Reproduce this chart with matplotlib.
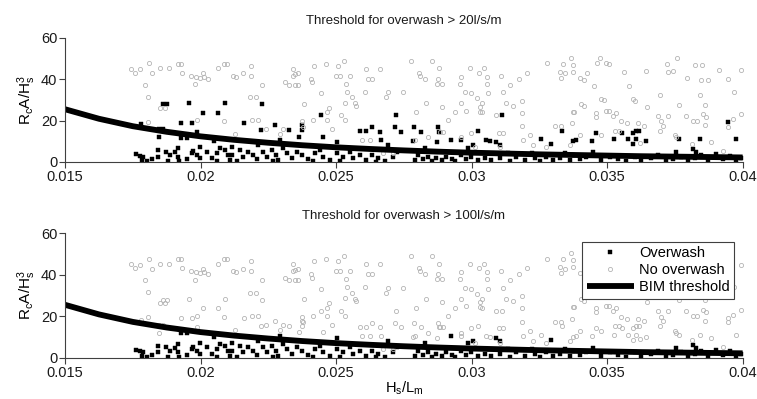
import matplotlib
matplotlib.use("Agg")
import matplotlib.pyplot as plt

plt.rcParams.update({
    "font.family": "Liberation Sans", "font.size": 10.5,
    "mathtext.fontset": "custom", "mathtext.rm": "Liberation Sans",
    "mathtext.it": "Liberation Sans:italic",
    "axes.edgecolor": "#404040", "axes.linewidth": 0.8,
})

# BIM threshold curve
thr_x = [0.015, 0.01625, 0.0175, 0.01875, 0.02, 0.02125, 0.0225, 0.02375, 0.025, 0.02625,
         0.0275, 0.02875, 0.03, 0.03125, 0.0325, 0.03375, 0.035, 0.03625, 0.0375, 0.03875, 0.04]
thr_y = [25.5, 20.9, 17.3, 14.6, 12.4, 10.7, 9.3, 8.1, 7.1, 6.3,
         5.6, 5.0, 4.5, 4.1, 3.7, 3.4, 3.1, 2.8, 2.6, 2.4, 2.2]

# tests with no overwash at either threshold (grey circles in both panels)
dry_x = [0.01742, 0.01758, 0.01777, 0.01811, 0.01820, 0.01850, 0.01885, 0.01918, 0.01927, 0.01930,
         0.01963, 0.01979, 0.01983, 0.01998, 0.02010, 0.02013, 0.02029, 0.02063, 0.02087, 0.02096,
         0.01796, 0.01807, 0.01850, 0.01869, 0.01807, 0.01985, 0.02087,
         0.02121, 0.02131, 0.02158, 0.02186, 0.02186, 0.02228, 0.02182, 0.02204, 0.02311,
         0.02327, 0.02342, 0.02342, 0.02348, 0.02358, 0.02348, 0.02360, 0.02407, 0.02410, 0.02419,
         0.02461, 0.02508, 0.02530, 0.02499, 0.02514, 0.02551, 0.02536, 0.02446, 0.02539, 0.02557,
         0.02533, 0.02569, 0.02572, 0.02610, 0.02661, 0.02618, 0.02631, 0.02606, 0.02684, 0.02690,
         0.02745, 0.02381, 0.02475, 0.02468, 0.02518, 0.02533, 0.02416, 0.02465, 0.02373, 0.02188,
         0.02213, 0.02241, 0.02303, 0.02293, 0.02127, 0.02379, 0.02483, 0.02624, 0.02674, 0.02711,
         0.02594,
         0.02778, 0.02854, 0.02805, 0.02809, 0.02827, 0.02880, 0.02876, 0.02873, 0.02892, 0.02993,
         0.03045, 0.03028, 0.02962, 0.02956, 0.03057, 0.03107, 0.03058, 0.03141, 0.03174, 0.03206,
         0.03278, 0.03337, 0.03368, 0.03325, 0.03344, 0.03331, 0.03374, 0.02975, 0.02996,
         0.03021, 0.03061, 0.03114, 0.02833, 0.02889, 0.02962, 0.03039, 0.03030, 0.03126, 0.03151,
         0.03186, 0.02793, 0.02938, 0.02981, 0.03030, 0.03040, 0.03089, 0.03187, 0.02913, 0.03187,
         0.03307, 0.03329, 0.03374, 0.02883, 0.02895, 0.02996, 0.03101, 0.03114, 0.03214, 0.02962,
         0.02840, 0.02790, 0.03012, 0.03104, 0.03190, 0.03227, 0.03276, 0.03362,
         0.03374, 0.03401, 0.03414, 0.03426, 0.03473, 0.03464, 0.03497, 0.03507, 0.03450,
         0.03561, 0.03581, 0.03645, 0.03721, 0.03724, 0.03743, 0.03758, 0.03796, 0.03823, 0.03851,
         0.03847, 0.03872, 0.03912, 0.03946, 0.03995, 0.03968, 0.03694, 0.03841, 0.03479, 0.03489,
         0.03595, 0.03602, 0.03405, 0.03414, 0.03647, 0.03767, 0.03860, 0.03377, 0.03460, 0.03460,
         0.03497, 0.03507, 0.03534, 0.03688, 0.03724, 0.03790, 0.03817, 0.03831, 0.03853, 0.03866,
         0.03995, 0.03964, 0.03372, 0.03522, 0.03552, 0.03573, 0.03614, 0.03635, 0.03700, 0.03706,
         0.03696, 0.03860, 0.03528, 0.03543, 0.03479, 0.03399, 0.03755, 0.03749, 0.03884, 0.03927,
         0.03814, 0.03946, 0.03620]
dry_y = [45.0, 43.2, 44.8, 47.7, 42.9, 45.3, 45.3, 47.4, 47.4, 43.2,
         41.8, 37.6, 41.3, 40.8, 42.9, 41.3, 40.2, 45.3, 47.4, 47.4,
         37.3, 31.5, 26.3, 26.3, 19.5, 20.3, 19.8,
         41.8, 41.3, 42.9, 46.5, 41.8, 37.3, 31.3, 31.3, 38.5,
         37.3, 45.0, 41.8, 42.4, 42.9, 37.3, 37.3, 40.2, 38.5, 46.5,
         47.4, 46.5, 48.9, 41.8, 41.8, 41.8, 37.7, 33.2, 34.0, 31.3,
         28.7, 28.4, 27.1, 45.0, 45.0, 40.2, 40.2, 34.0, 31.3, 33.7,
         33.7, 28.1, 26.3, 24.0, 22.7, 20.3, 20.3, 20.3, 19.8, 20.3,
         20.3, 15.8, 15.9, 13.4, 13.4, 17.1, 15.9, 10.6, 4.2, 4.2,
         10.6,
         48.9, 48.9, 43.2, 41.8, 40.2, 45.3, 40.2, 37.7, 37.7, 45.3,
         45.3, 43.2, 41.3, 37.7, 41.3, 41.8, 37.7, 37.3, 40.2, 43.2,
         47.7, 47.3, 50.2, 43.7, 42.9, 40.8, 46.9, 33.7, 33.2,
         30.8, 33.2, 33.7, 28.4, 26.8, 28.4, 28.4, 26.8, 28.4, 27.1,
         29.7, 24.0, 24.0, 24.7, 24.3, 24.0, 22.7, 23.9, 20.3, 17.4,
         17.4, 17.4, 24.3, 14.7, 14.7, 14.2, 14.2, 14.2, 13.1, 12.2,
         12.2, 10.6, 7.4, 7.4, 10.6, 8.2, 7.4, 8.2,
         43.7, 40.8, 39.7, 42.9, 50.2, 47.7, 47.7, 47.4, 36.8,
         43.7, 36.8, 44.0, 47.3, 43.4, 44.0, 50.2, 40.8, 46.9, 46.9,
         39.7, 39.7, 44.5, 40.2, 44.5, 34.0, 32.4, 32.4, 30.3, 30.0,
         30.3, 29.5, 28.1, 27.1, 26.8, 27.6, 27.6, 24.3, 23.9, 21.9,
         24.7, 24.7, 23.9, 22.3, 22.3, 22.3, 20.0, 20.0, 23.2, 21.9,
         23.2, 20.6, 18.7, 22.3, 19.8, 18.7, 18.7, 17.6, 19.8, 17.6,
         15.2, 17.9, 15.2, 15.2, 13.1, 13.1, 12.2, 13.1, 9.5, 5.3,
         8.5, 17.1, 9.0]

# overwash > 20 l/s/m but not > 100 l/s/m
ow20_x = [0.01863, 0.01875, 0.01958, 0.02090, 0.02008, 0.02063, 0.01780, 0.01928, 0.01970, 0.01845,
          0.01863, 0.01988, 0.01845,
          0.02228, 0.02160, 0.02446, 0.02720, 0.02274, 0.02223, 0.02327, 0.02373, 0.02373, 0.02364,
          0.02452, 0.02588, 0.02612, 0.02631, 0.02661, 0.02717, 0.02741, 0.02665,
          0.03112, 0.02787, 0.02876, 0.02815, 0.02879, 0.03022, 0.03335, 0.02784, 0.02874,
          0.02960, 0.03052, 0.03067, 0.03257, 0.03374,
          0.03945, 0.03460, 0.03556, 0.03595, 0.03608, 0.03617, 0.03384, 0.03445, 0.03524, 0.03577,
          0.03608, 0.03645, 0.03767, 0.03841, 0.03976, 0.03595]
ow20_y = [27.9, 27.9, 28.4, 28.4, 23.9, 23.9, 18.2, 19.0, 19.0, 15.8,
          15.8, 14.7, 12.2,
          27.9, 19.0, 22.7, 22.7, 17.9, 15.5, 15.5, 17.9, 15.5, 12.3,
          12.3, 15.0, 15.0, 16.8, 14.7, 16.8, 14.7, 10.6,
          22.7, 16.8, 16.8, 14.7, 14.7, 15.2, 15.2, 10.2, 9.5,
          10.6, 10.6, 10.2, 11.0, 10.2,
          19.2, 14.2, 14.2, 14.2, 15.2, 15.2, 10.6, 10.3, 11.0, 11.0,
          11.0, 10.2, 11.0, 11.0, 11.0, 8.5]

# overwash > 100 l/s/m (black squares in both panels)
ow100_x = [0.01928, 0.01949, 0.02049,
           0.01762, 0.01777, 0.01789, 0.01804, 0.01844, 0.01844, 0.01872, 0.01887, 0.01906, 0.01918,
           0.01922, 0.01949, 0.01967, 0.01973, 0.01985, 0.01998, 0.01998, 0.02022, 0.02041, 0.02059,
           0.02072, 0.02090, 0.02102, 0.02108, 0.02059, 0.01918, 0.01881, 0.01820, 0.01783,
           0.02502, 0.02692, 0.02293, 0.02213,
           0.02115, 0.02115, 0.02145, 0.02158, 0.02176, 0.02194, 0.02207, 0.02231, 0.02244, 0.02262,
           0.02280, 0.02287, 0.02305, 0.02317, 0.02336, 0.02354, 0.02373, 0.02397, 0.02422, 0.02440,
           0.02453, 0.02477, 0.02502, 0.02526, 0.02551, 0.02563, 0.02588, 0.02612, 0.02631, 0.02655,
           0.02680, 0.02711, 0.02723, 0.02133, 0.02268, 0.02416, 0.02514, 0.02649,
           0.02923, 0.03089, 0.03104, 0.03292, 0.03006, 0.02987, 0.02827,
           0.02790, 0.02803, 0.02821, 0.02840, 0.02852, 0.02870, 0.02889, 0.02907, 0.02926, 0.02938,
           0.02962, 0.02981, 0.02999, 0.03024, 0.03048, 0.03073, 0.03104, 0.03134, 0.03141, 0.03165,
           0.03196, 0.03221, 0.03233, 0.03251, 0.03276, 0.03300, 0.03325, 0.03344, 0.03362,
           0.03817, 0.03829,
           0.03374, 0.03399, 0.03423, 0.03448, 0.03479, 0.03509, 0.03540, 0.03571, 0.03602, 0.03626,
           0.03663, 0.03688, 0.03718, 0.03743, 0.03755, 0.03774, 0.03798, 0.03823, 0.03847, 0.03872,
           0.03903, 0.03927, 0.03952, 0.03976, 0.03995]
ow100_y = [11.8, 11.8, 10.2,
           3.7, 3.1, 2.6, 0.5, 5.8, 2.6, 5.0, 3.4, 4.7, 6.6,
           0.5, 1.4, 4.2, 5.3, 3.4, 7.4, 1.8, 5.0, 2.1, 4.2,
           6.6, 5.8, 3.4, 1.0, 0.5, 2.6, 0.5, 1.4, 1.0,
           9.8, 8.2, 10.6, 8.2,
           7.4, 3.4, 5.8, 2.6, 5.0, 3.4, 1.4, 5.0, 2.6, 5.8,
           3.4, 1.0, 6.6, 4.2, 1.8, 5.0, 3.4, 1.4, 4.2, 5.8,
           2.6, 1.0, 4.2, 2.6, 5.0, 1.8, 3.4, 1.0, 3.4, 1.8,
           0.5, 2.6, 5.0, 0.5, 0.5, 0.5, 0.5, 0.2,
           10.6, 9.5, 8.2, 8.5, 8.2, 7.0, 7.0,
           1.0, 3.4, 1.4, 2.6, 0.5, 1.8, 1.0, 2.6, 1.4, 0.5,
           3.4, 1.4, 2.6, 1.0, 1.8, 1.0, 2.1, 4.2, 0.5, 2.6,
           1.0, 4.2, 1.8, 0.5, 2.6, 1.0, 2.1, 4.2, 1.0,
           6.3, 4.7,
           3.4, 1.4, 2.6, 4.7, 1.0, 2.6, 1.4, 0.5, 2.6, 1.0,
           1.8, 3.4, 0.5, 1.4, 4.7, 2.6, 0.5, 1.8, 3.4, 1.0,
           3.7, 1.4, 3.1, 1.0, 2.1]

panels = [
    ("Threshold for overwash > 20l/s/m", ow20_x + ow100_x, ow20_y + ow100_y, dry_x, dry_y),
    ("Threshold for overwash > 100l/s/m", ow100_x, ow100_y, dry_x + ow20_x, dry_y + ow20_y),
]

fig = plt.figure(figsize=(7.57, 3.99), dpi=100)
rects = [[0.086, 0.594, 0.895, 0.311], [0.086, 0.103, 0.895, 0.313]]

for i, (title, wx, wy, nx, ny) in enumerate(panels):
    ax = fig.add_axes(rects[i])
    ax.plot(wx, wy, ls="none", marker="s", ms=3.4, mfc="black", mec="black", mew=0.3,
            label="Overwash")
    ax.plot(nx, ny, ls="none", marker="o", ms=3.0, mfc="none", mec="#b4b4b4", mew=0.6,
            label="No overwash")
    ax.plot(thr_x, thr_y, color="black", lw=4.2, solid_capstyle="butt", solid_joinstyle="round",
            label="BIM threshold")
    ax.set_xlim(0.015, 0.04)
    ax.set_ylim(0, 60)
    ax.set_xticks([0.015, 0.02, 0.025, 0.03, 0.035, 0.04])
    ax.set_xticklabels(["0.015", "0.02", "0.025", "0.03", "0.035", "0.04"])
    ax.set_yticks([0, 20, 40, 60])
    ax.tick_params(direction="out", length=4, width=0.8, color="#404040", pad=1.5,
                   labelcolor="#1a1a1a")
    for s in ("top", "right"):
        ax.spines[s].set_visible(False)
    ax.set_title(title, fontsize=9.5, pad=10, color="#1a1a1a")
    ax.set_ylabel(r"$\mathregular{R_cA/H^3_s}$", fontsize=11, labelpad=2)
    if i == 1:
        ax.set_xlabel(r"$\mathregular{H_s/L_m}$", fontsize=10.5, labelpad=0)
        leg = ax.legend(loc="upper right", bbox_to_anchor=(0.988, 0.928), borderaxespad=0,
                        fontsize=10.5, handlelength=3.2, handletextpad=0.4, labelspacing=0.2,
                        borderpad=0.3, fancybox=False, framealpha=1)
        leg.get_frame().set_edgecolor("#404040")
        leg.get_frame().set_linewidth(0.8)

fig.savefig("out.png", dpi=100, facecolor="white")
